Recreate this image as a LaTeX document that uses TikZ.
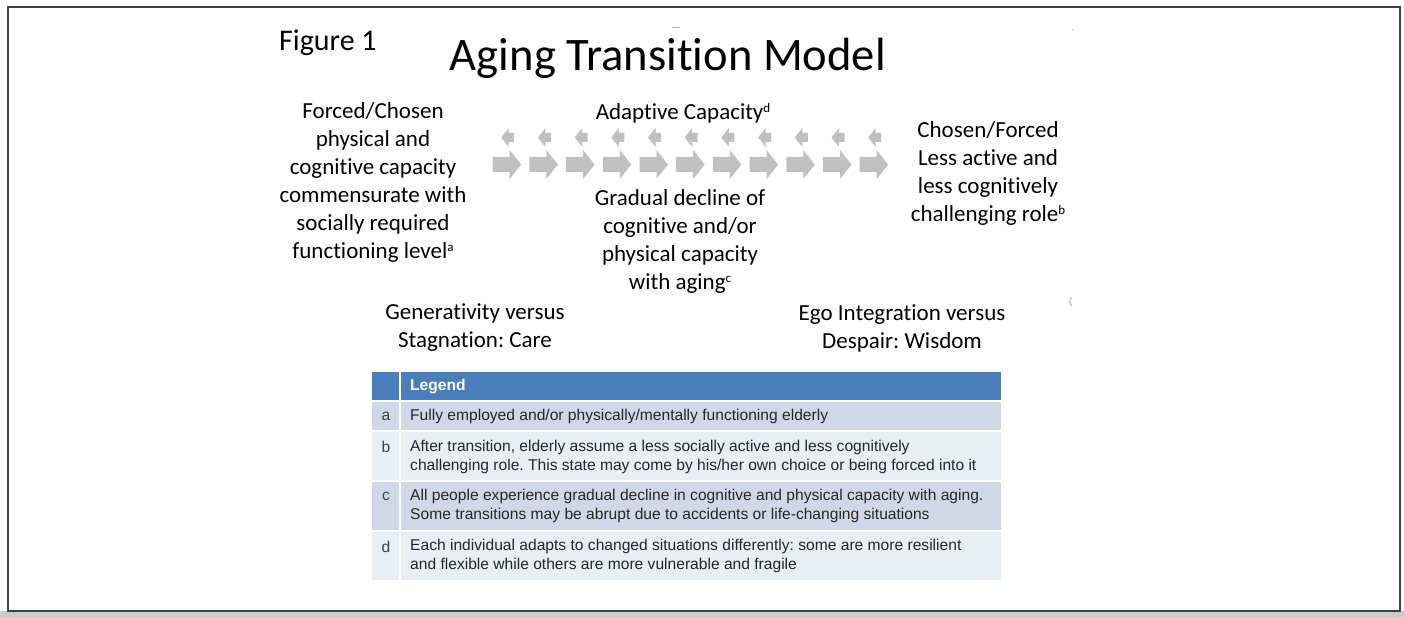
\documentclass[tikz,border=0pt]{standalone}
\usepackage{fontspec}
\setmainfont{Carlito}[Ligatures=NoCommon]
\newfontfamily\legendfont{Liberation Sans}
\frenchspacing
\definecolor{framegray}{HTML}{404040}
\definecolor{arrowgray}{HTML}{C0C0C0}
\definecolor{headblue}{HTML}{4A7EBB}
\definecolor{rowdark}{HTML}{D0D8E8}
\definecolor{rowlight}{HTML}{E9EDF4}
\definecolor{legtext}{HTML}{262626}
\newcommand{\supmark}[1]{\raisebox{6.5pt}{\fontsize{13}{13}\selectfont #1}}
\begin{document}
\begin{tikzpicture}[x=1pt,y=-1pt,
  body/.style={font=\fontsize{23}{28}\selectfont, align=center, inner sep=0pt, text=black},
  legtxt/.style={font=\legendfont\fontsize{15.6}{19}\selectfont, align=left, anchor=west, inner sep=0pt, text=legtext},
  legkey/.style={font=\legendfont\fontsize{15.6}{19}\selectfont, inner sep=0pt, text=black!75},
  bigarrow/.style={fill=arrowgray},
]
\useasboundingbox (0,0) rectangle (1404,617);
% page frame
\fill[gray!40] (0,611) rectangle (1404,617);
\draw[framegray, line width=2pt] (8,7) rectangle (1400,611);

% headings
\node[anchor=base west, inner sep=0pt, font=\fontsize{30}{36}\selectfont] (fig) at (279,51) {Figure 1};
\node[anchor=base, inner sep=0pt, font=\fontsize{46.6}{56}\selectfont] (title) at (668,71) {Aging Transition Model};

% states and processes
\node[body] (left) at (373,182) {Forced/Chosen\\physical and\\cognitive capacity\\commensurate with\\socially required\\functioning level\supmark{a}};
\node[body] (adapt) at (683,113) {Adaptive Capacity\supmark{d}};
\node[body] (decline) at (680,241) {Gradual decline of\\cognitive and/or\\physical capacity\\with aging\supmark{c}};
\node[body] (right) at (988,173) {Chosen/Forced\\Less active and\\less cognitively\\challenging role\supmark{b}};
\node[body] (gen) at (475,328) {Generativity versus\\Stagnation: Care};
\node[body] (ego) at (902,328) {Ego Integration versus\\Despair: Wisdom};

% chain of transition arrows
\foreach \i in {0,...,10}{
  \pgfmathsetmacro{\xa}{492.7+36.7*\i}
  \fill[bigarrow] (\xa,157) -- (\xa+17,157) -- (\xa+17,150) -- (\xa+28.5,164.5)
     -- (\xa+17,179) -- (\xa+17,172) -- (\xa,172) -- cycle;
  \fill[bigarrow] (\xa+8.5,137.5) -- (\xa+16,128) -- (\xa+16,133) -- (\xa+21.5,133)
     -- (\xa+21.5,142) -- (\xa+16,142) -- (\xa+16,147) -- cycle;
}

% small marks
\draw[gray!60, line width=0.8pt] (672,27.5) -- (680,27.5);
\draw[gray!40, line width=0.6pt] (1072,29) -- (1072,31);
\draw[gray!70, line width=0.8pt] (1072,306) arc[start angle=120, end angle=240, radius=5];

% legend table
\fill[headblue] (372,372) rectangle (1001,400);
\fill[rowdark] (372,402) rectangle (1001,430);
\fill[rowlight] (372,432) rectangle (1001,480);
\fill[rowdark] (372,482) rectangle (1001,530);
\fill[rowlight] (372,532) rectangle (1001,580);
\draw[white, line width=2pt] (400,372) -- (400,580);

\node[anchor=west, inner sep=0pt, text=white, font=\legendfont\bfseries\fontsize{15.6}{18}\selectfont] (lh) at (410,386) {Legend};
\node[legkey] (ka) at (386,416) {a};
\node[legtxt] (ta) at (410,416) {Fully employed and/or physically/mentally functioning elderly};
\node[legkey] (kb) at (386,447) {b};
\node[legtxt] (tb) at (410,456.5) {After transition, elderly assume a less socially active and less cognitively\\challenging role. This state may come by his/her own choice or being forced into it};
\node[legkey] (kc) at (386,496) {c};
\node[legtxt] (tc) at (410,506) {All people experience gradual decline in cognitive and physical capacity with aging.\\Some transitions may be abrupt due to accidents or life-changing situations};
\node[legkey] (kd) at (386,547) {d};
\node[legtxt] (td) at (410,556) {Each individual adapts to changed situations differently: some are more resilient\\and flexible while others are more vulnerable and fragile};
\end{tikzpicture}
\end{document}
